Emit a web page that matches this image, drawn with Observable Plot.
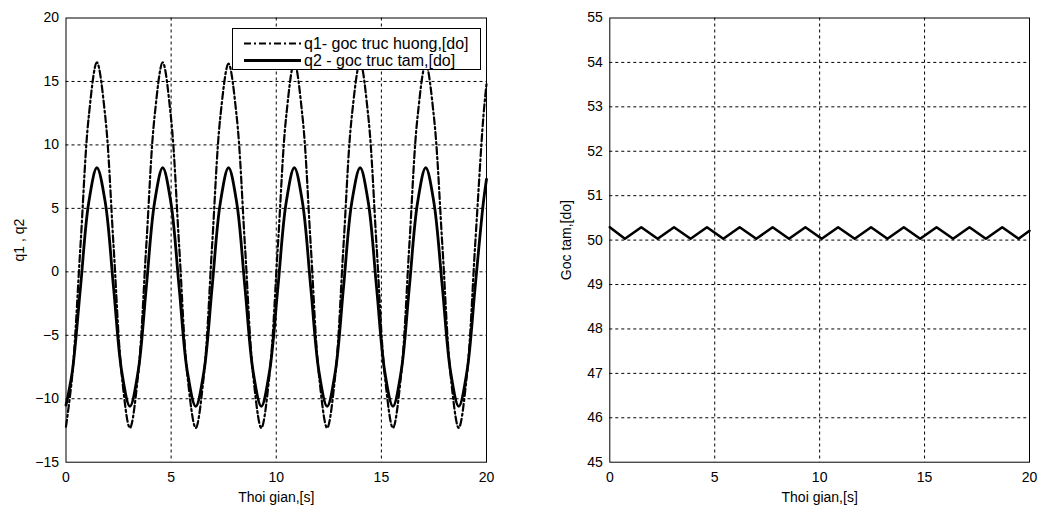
<!DOCTYPE html>
<html><head><meta charset="utf-8">
<script src="https://cdn.jsdelivr.net/npm/d3@7"></script>
<script src="https://cdn.jsdelivr.net/npm/@observablehq/plot@0.6"></script>
<style>
body{margin:0;background:#fff;font-family:"Liberation Sans",Arial,sans-serif;}
#wrap{position:relative;width:1039px;height:506px;display:flex;overflow:hidden;}
#legend{position:absolute;left:232px;top:28px;width:247px;height:40px;background:#fff;border:1px solid #000;}
</style></head><body>
<div id="wrap"><div id="left"></div><div id="right"></div><div id="legend"></div></div>
<script>
// Left chart data
const tLeft = [0, 0.30, 0.69, 1.08, 1.47, 1.87, 2.26, 2.65, 3.04, 3.43, 3.82, 4.21, 4.60, 4.99, 5.38, 5.77, 6.17, 6.56, 6.95, 7.34, 7.73, 8.12, 8.51, 8.90, 9.29, 9.68, 10.08, 10.47, 10.86, 11.25, 11.64, 12.03, 12.42, 12.81, 13.20, 13.59, 13.99, 14.38, 14.77, 15.16, 15.55, 15.94, 16.33, 16.72, 17.11, 17.50, 17.90, 18.29, 18.68, 19.07, 19.46, 19.85, 20];
const q1 = [-12.2, -8.1, 2.1, 12.2, 16.5, 12.2, 2.1, -8.1, -12.3, -8.1, 2.1, 12.2, 16.5, 12.2, 2.1, -8.1, -12.3, -8.1, 2.1, 12.2, 16.4, 12.2, 2.1, -8.1, -12.3, -8.1, 2.1, 12.2, 16.5, 12.2, 2.1, -8.1, -12.3, -8.1, 2.1, 12.2, 16.5, 12.2, 2.1, -8.1, -12.3, -8.1, 2.1, 12.2, 16.4, 12.2, 2.1, -8.1, -12.3, -8.1, 2.1, 12.2, 14.8];
const q2 = [-10.5, -7.85, -1.2, 5.45, 8.2, 5.45, -1.2, -7.85, -10.6, -7.85, -1.2, 5.45, 8.2, 5.45, -1.2, -7.85, -10.6, -7.85, -1.2, 5.45, 8.2, 5.45, -1.2, -7.85, -10.6, -7.85, -1.2, 5.45, 8.2, 5.45, -1.2, -7.85, -10.6, -7.85, -1.2, 5.45, 8.2, 5.45, -1.2, -7.85, -10.6, -7.85, -1.2, 5.45, 8.2, 5.45, -1.2, -7.85, -10.6, -7.85, -1.2, 5.45, 7.3];
// Right chart data
const tRight = [0, 0.72, 1.50, 2.28, 3.06, 3.85, 4.63, 5.41, 6.19, 6.98, 7.76, 8.54, 9.32, 10.10, 10.88, 11.67, 12.45, 13.23, 14.01, 14.79, 15.57, 16.36, 17.14, 17.92, 18.70, 19.48, 20];
const gocTam = [50.29, 50.03, 50.29, 50.03, 50.29, 50.03, 50.29, 50.03, 50.29, 50.03, 50.29, 50.03, 50.29, 50.03, 50.29, 50.03, 50.29, 50.03, 50.29, 50.03, 50.29, 50.03, 50.29, 50.03, 50.29, 50.03, 50.21];

const xTicks = [0, 5, 10, 15, 20];
const yTicksLeft = [-15, -10, -5, 0, 5, 10, 15, 20];
const yTicksRight = [45, 46, 47, 48, 49, 50, 51, 52, 53, 54, 55];
const legendLabels = ["q1- goc truc huong,[do]", "q2 - goc truc tam,[do]"];
const xLabel = "Thoi gian,[s]";

const leftData = tLeft.map((t, i) => ({t, q1: q1[i], q2: q2[i]}));
const rightData = tRight.map((t, i) => ({t, v: gocTam[i]}));

const font = '"Liberation Sans", Arial, sans-serif';
const dash = "3,3";
const style = {fontFamily: font, fontSize: "14px", color: "#000", background: "#fff", overflow: "visible"};

const left = Plot.plot({
  width: 540, height: 506,
  marginLeft: 65.5, marginRight: 54, marginTop: 17.5, marginBottom: 44.3,
  style,
  x: {domain: [0, 20]},
  y: {domain: [-15, 20]},
  marks: [
    Plot.gridX([5, 10, 15], {stroke: "#000", strokeOpacity: 1, strokeDasharray: dash}),
    Plot.gridY([-10, -5, 0, 5, 10, 15], {stroke: "#000", strokeOpacity: 1, strokeDasharray: dash}),
    Plot.line(leftData, {x: "t", y: "q1", stroke: "#000", strokeWidth: 2.2, strokeDasharray: "7,3,2,3", curve: "catmull-rom"}),
    Plot.line(leftData, {x: "t", y: "q2", stroke: "#000", strokeWidth: 2.8, curve: "catmull-rom"}),
    Plot.frame({stroke: "#000"}),
    Plot.axisX({ticks: xTicks, tickSize: 0, tickPadding: 10, label: xLabel, labelAnchor: "center", labelArrow: "none", labelOffset: 40}),
    Plot.axisY({ticks: yTicksLeft, tickSize: 0, tickPadding: 7, label: "q1 , q2", labelAnchor: "center", labelArrow: "none", labelOffset: 52})
  ]
});

const right = Plot.plot({
  width: 499, height: 506,
  marginLeft: 69.3, marginRight: 10, marginTop: 17.5, marginBottom: 44.3,
  style,
  x: {domain: [0, 20]},
  y: {domain: [45, 55]},
  marks: [
    Plot.gridX([5, 10, 15], {stroke: "#000", strokeOpacity: 1, strokeDasharray: dash}),
    Plot.gridY([46, 47, 48, 49, 50, 51, 52, 53, 54], {stroke: "#000", strokeOpacity: 1, strokeDasharray: dash}),
    Plot.line(rightData, {x: "t", y: "v", stroke: "#000", strokeWidth: 2.6, strokeLinejoin: "round"}),
    Plot.frame({stroke: "#000"}),
    Plot.axisX({ticks: xTicks, tickSize: 0, tickPadding: 10, label: xLabel, labelAnchor: "center", labelArrow: "none", labelOffset: 40}),
    Plot.axisY({ticks: yTicksRight, tickSize: 0, tickPadding: 7, label: "Goc tam,[do]", labelAnchor: "center", labelArrow: "none", labelOffset: 49})
  ]
});

document.getElementById("left").appendChild(left);
document.getElementById("right").appendChild(right);

// Legend
const lg = d3.select("#legend").append("svg").attr("width", 247).attr("height", 40)
  .style("font-family", font).style("font-size", "16px");
const dashes = ["7,3,2,3", null];
const widths = [2.2, 2.8];
legendLabels.forEach((lab, i) => {
  const y = 14.5 + i * 17;
  const ln = lg.append("line").attr("x1", 11).attr("x2", 68).attr("y1", y).attr("y2", y)
    .attr("stroke", "#000").attr("stroke-width", widths[i]);
  if (dashes[i]) ln.attr("stroke-dasharray", dashes[i]);
  lg.append("text").attr("x", 71).attr("y", y + 5.5).text(lab);
});
</script>
</body></html>
